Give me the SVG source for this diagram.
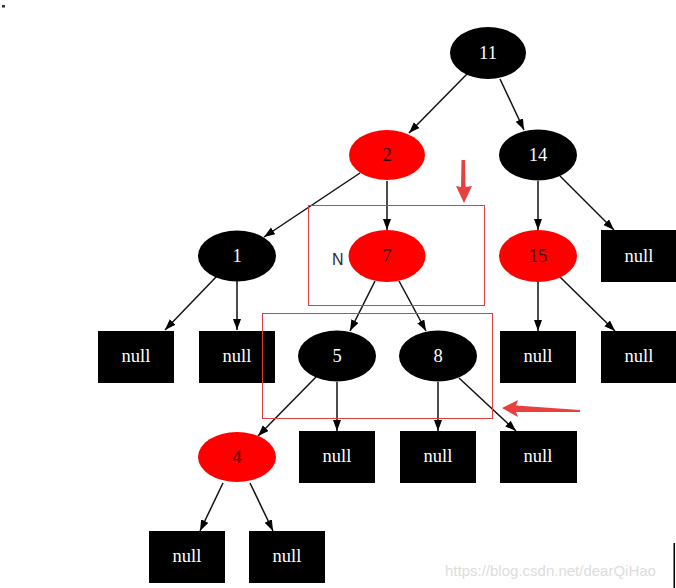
<svg xmlns="http://www.w3.org/2000/svg" width="676" height="588" viewBox="0 0 676 588">
<defs>
<marker id="ah" markerUnits="userSpaceOnUse" markerWidth="12" markerHeight="9" refX="11" refY="4" orient="auto">
<path d="M0,0 L11,4 L0,8 z" fill="#000"/>
</marker>
<style>
.e{stroke:#111;stroke-width:1.5;fill:none;marker-end:url(#ah)}
.b{fill:#000}
.r{fill:#ff0000}
.t{font-family:"Liberation Serif","Times New Roman",serif;font-size:18.5px;text-anchor:middle}
.w{fill:#fff}
.k{fill:#300}
.hl{fill:none;stroke:#d9403f;stroke-width:1}
.ra{fill:#e8403f}
</style>
</defs>
<rect width="676" height="588" fill="#fff"/>
<rect x="2" y="5" width="3" height="2.5" fill="#333"/>
<g id="edges">
<line class="e" x1="467" y1="74" x2="409" y2="133"/>
<line class="e" x1="500" y1="79" x2="524" y2="130"/>
<line class="e" x1="360" y1="173" x2="264" y2="237"/>
<line class="e" x1="387" y1="181" x2="387" y2="230"/>
<line class="e" x1="538" y1="181" x2="538" y2="230"/>
<line class="e" x1="560" y1="176" x2="614" y2="230"/>
<line class="e" x1="217" y1="276" x2="165" y2="330"/>
<line class="e" x1="237" y1="281" x2="237" y2="330"/>
<line class="e" x1="375" y1="281" x2="350" y2="331"/>
<line class="e" x1="399" y1="281" x2="426" y2="331"/>
<line class="e" x1="538" y1="282" x2="538" y2="331"/>
<line class="e" x1="560" y1="277" x2="615" y2="331"/>
<line class="e" x1="316" y1="377" x2="258" y2="436"/>
<line class="e" x1="337" y1="382" x2="337" y2="431"/>
<line class="e" x1="438" y1="382" x2="438" y2="431"/>
<line class="e" x1="459" y1="378" x2="516" y2="431"/>
<line class="e" x1="223" y1="483" x2="200" y2="531"/>
<line class="e" x1="250" y1="483" x2="273" y2="531"/>
</g>
<g id="n11"><ellipse class="b" cx="488" cy="53" rx="38" ry="26"/><text class="t w" x="488" y="59">11</text></g>
<g id="n2"><ellipse class="r" cx="387" cy="155" rx="38" ry="25"/><text class="t k" x="387" y="161">2</text></g>
<g id="n14"><ellipse class="b" cx="538" cy="155" rx="39" ry="25.5"/><text class="t w" x="538" y="161">14</text></g>
<g id="n1"><ellipse class="b" cx="237" cy="256" rx="39" ry="25.5"/><text class="t w" x="237" y="262">1</text></g>
<g id="n7"><ellipse class="r" cx="387" cy="256" rx="38.5" ry="26"/><text class="t k" x="387" y="262">7</text></g>
<g id="n15"><ellipse class="r" cx="538" cy="256" rx="39" ry="26"/><text class="t k" x="538" y="262">15</text></g>
<g id="null14"><rect class="b" x="601" y="230" width="76" height="52"/><text class="t w" x="639" y="262">null</text></g>
<g id="null1a"><rect class="b" x="98" y="331" width="76" height="52"/><text class="t w" x="136" y="362">null</text></g>
<g id="null1b"><rect class="b" x="199" y="331" width="76" height="52"/><text class="t w" x="237" y="362">null</text></g>
<g id="n5"><ellipse class="b" cx="337" cy="356" rx="39" ry="25.5"/><text class="t w" x="337" y="362">5</text></g>
<g id="n8"><ellipse class="b" cx="438" cy="356" rx="39" ry="25.5"/><text class="t w" x="438" y="362">8</text></g>
<g id="null15a"><rect class="b" x="500" y="331" width="76" height="52"/><text class="t w" x="538" y="362">null</text></g>
<g id="null15b"><rect class="b" x="601" y="331" width="76" height="52"/><text class="t w" x="639" y="362">null</text></g>
<g id="n4"><ellipse class="r" cx="237" cy="457" rx="39" ry="25"/><text class="t k" x="237" y="463">4</text></g>
<g id="null5"><rect class="b" x="299" y="431" width="76" height="52"/><text class="t w" x="337" y="462">null</text></g>
<g id="null8a"><rect class="b" x="400" y="431" width="76" height="52"/><text class="t w" x="438" y="462">null</text></g>
<g id="null8b"><rect class="b" x="500" y="431" width="77" height="52"/><text class="t w" x="538" y="462">null</text></g>
<g id="null4a"><rect class="b" x="149" y="531" width="76" height="52"/><text class="t w" x="187" y="562">null</text></g>
<g id="null4b"><rect class="b" x="249" y="531" width="76" height="52"/><text class="t w" x="287" y="562">null</text></g>
<g id="annotations">
<rect class="hl" x="308.5" y="205.5" width="176" height="100"/>
<rect class="hl" x="262.5" y="313.5" width="230" height="105"/>
<polygon class="ra" points="461.5,160 465,160 465.5,187 472,186 464,203 456,186 461,187"/>
<polygon class="ra" points="502,408 518,400 516,405.5 580,410 580,412 516,412 518,417"/>
<text x="332" y="265" font-family="Liberation Sans, Arial, sans-serif" font-size="16" fill="#2a2a2a">N</text>
</g>
<text x="445" y="576" font-family="Liberation Sans, Arial, sans-serif" font-size="15" fill="#ddd">https://blog.csdn.net/dearQiHao</text>
<rect x="673.5" y="543" width="1.5" height="45" fill="#000"/>
</svg>
